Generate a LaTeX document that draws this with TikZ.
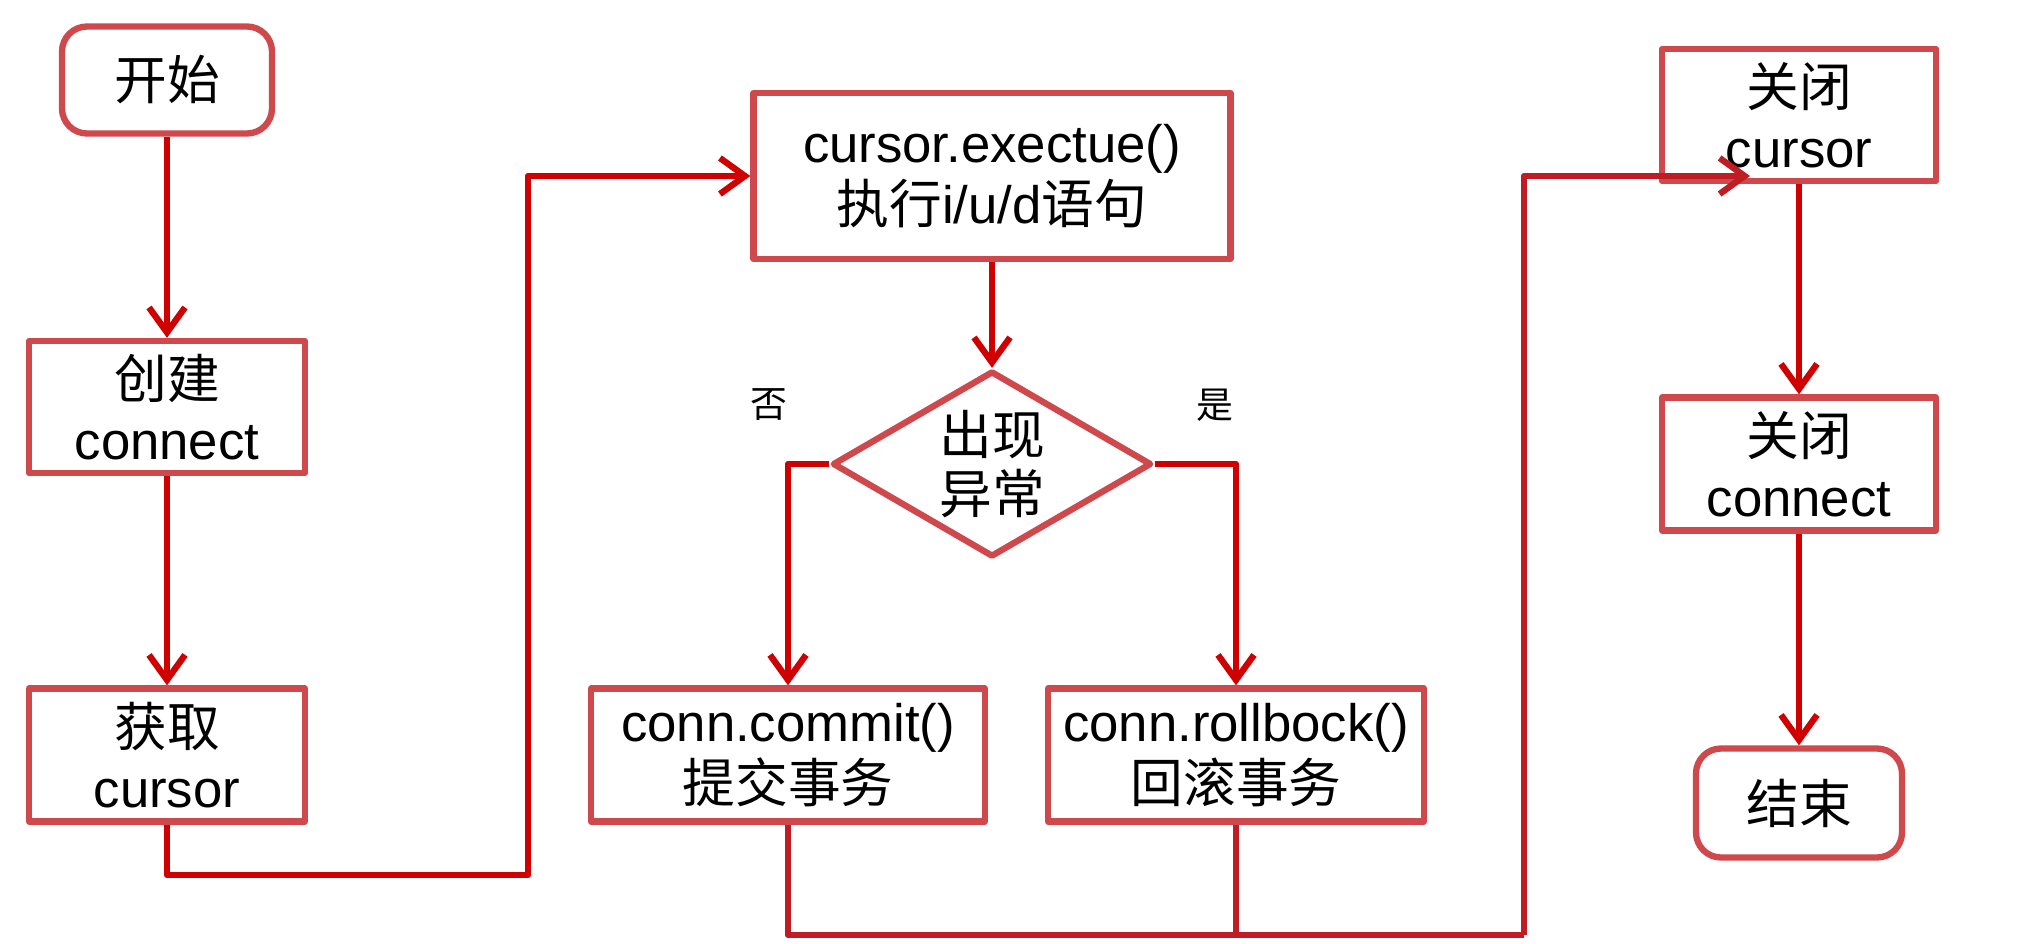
\documentclass[tikz,border=0pt]{standalone}
\usepackage{fontspec}
\setmainfont{Liberation Sans}
\newfontfamily\cjk{Noto Sans CJK SC}
\usepackage{tikz}
\usetikzlibrary{shapes.geometric}
\usetikzlibrary{arrows.meta}
\definecolor{boxred}{RGB}{206,72,76}
\definecolor{linered}{RGB}{208,0,0}
\definecolor{joinred}{RGB}{192,28,36}

\begin{document}
\begin{tikzpicture}[>={Straight Barb[length=2.5mm,width=3.6mm]},line join=round,
	box/.style={draw=boxred,line width=1.8pt,align=center,inner sep=0pt,font=\fontsize{15}{17.5}\selectfont},
	term/.style={box,rounded corners=2.5mm},
	cond/.style={box,diamond,aspect=1.7,minimum width=3.19cm,minimum height=1.86cm,font=\fontsize{15}{17}\selectfont},
	note/.style={font=\fontsize{10.5}{12}\selectfont},
	flow/.style={draw=linered,line width=1.8pt},
	mergeline/.style={draw=joinred,line width=1.8pt}
	]
	\useasboundingbox (0,0) rectangle (20.2,-9.44);
	% left column
	\node[term,minimum width=2.10cm,minimum height=1.07cm] (start) at (1.67,-0.80) {{\cjk 开始}};
	\node[box,minimum width=2.76cm,minimum height=1.32cm] (mkconn) at (1.67,-4.07) {{\cjk 创建}\\connect};
	\node[box,minimum width=2.76cm,minimum height=1.33cm] (getcur) at (1.67,-7.55) {{\cjk 获取}\\cursor};
	% middle part
	\node[box,minimum width=4.77cm,minimum height=1.66cm] (exec) at (9.92,-1.76) {cursor.exectue()\\{\cjk 执行}i/u/d{\cjk 语句}};
	\node[cond] (err) at (9.92,-4.64) {{\cjk 出现}\\{\cjk 异常}};
	\node[note] (nolbl) at (7.69,-4.05) {\cjk 否};
	\node[note] (yeslbl) at (12.15,-4.05) {\cjk 是};
	\node[box,minimum width=3.94cm,minimum height=1.33cm] (commit) at (7.88,-7.55) {conn.commit()\\{\cjk 提交事务}};
	\node[box,minimum width=3.76cm,minimum height=1.33cm] (rollback) at (12.36,-7.55) {conn.rollbock()\\{\cjk 回滚事务}};
	% right column
	\node[box,minimum width=2.74cm,minimum height=1.32cm] (closecur) at (17.99,-1.15) {{\cjk 关闭}\\cursor};
	\node[box,minimum width=2.74cm,minimum height=1.33cm] (closeconn) at (17.99,-4.64) {{\cjk 关闭}\\connect};
	\node[term,minimum width=2.06cm,minimum height=1.09cm] (finish) at (17.99,-8.03) {{\cjk 结束}};
	% turning points
	\coordinate (routeA) at (5.28,-8.75);
	\coordinate (routeB) at (15.24,-9.35);
	\coordinate (endB) at (17.50,-1.76);
	\draw[flow,->] (start) -- (mkconn);
	\draw[flow,->] (mkconn) -- (getcur);
	\draw[flow,->] (getcur.south) |- (routeA) |- (exec.west);
	\draw[flow,->] (exec) -- (err);
	\draw[flow,->] (err.west) -| (commit.north);
	\draw[flow,->] (err.east) -| (rollback.north);
	\draw[mergeline] (commit.south) |- (routeB);
	\draw[mergeline] (rollback.south) -- (rollback.south |- routeB);
	\draw[mergeline,->] (routeB) |- (endB);
	\draw[flow,->] (closecur) -- (closeconn);
	\draw[flow,->] (closeconn) -- (finish);
\end{tikzpicture}
\end{document}
